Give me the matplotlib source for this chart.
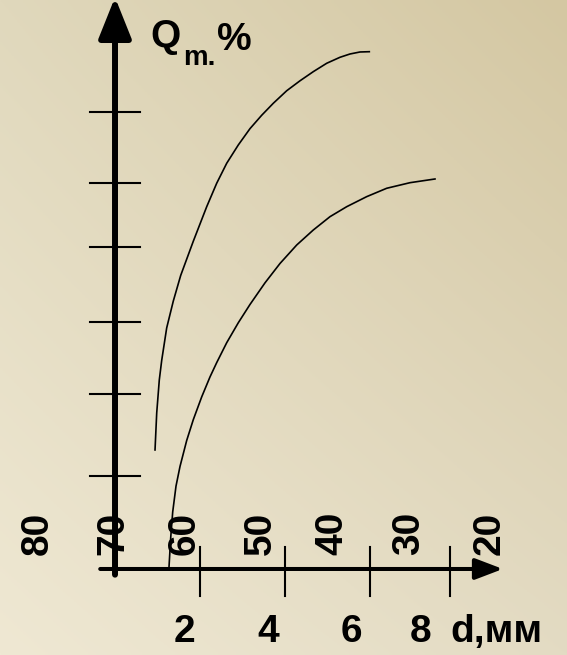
import numpy as np
import matplotlib.pyplot as plt

# upper curve: d (mm) vs Q (%)
d_up = [0.946, 0.986, 1.047, 1.104, 1.222, 1.378, 1.553, 1.851, 2.168, 2.404, 2.641, 2.915,
        3.191, 3.468, 3.742, 4.059, 4.374, 4.688, 5.005, 5.319, 5.556, 5.792, 6.012]
q_up = [20.88, 27.37, 33.16, 36.6, 42.3, 47.0, 51.5, 57.5, 63.56, 67.67, 71.18, 74.39,
        77.25, 79.6, 81.7, 83.9, 85.65, 87.25, 88.72, 89.77, 90.35, 90.70, 90.75]

# lower curve
d_low = [1.277, 1.317, 1.364, 1.442, 1.537, 1.695, 1.851, 2.050, 2.246, 2.404, 2.641, 2.915,
         3.191, 3.546, 3.901, 4.296, 4.688, 5.083, 5.478, 5.950, 6.423, 6.974, 7.565]
q_low = [0.4, 5.5, 10.0, 14.54, 18.0, 22.55, 26.2, 30.2, 33.7, 36.2, 39.7, 43.2,
         46.4, 50.2, 53.6, 56.84, 59.47, 61.81, 63.56, 65.32, 66.79, 67.77, 68.42]

# marks on the Q axis
q_ticks = [80.2, 67.7, 56.5, 43.3, 30.7, 16.3]

# d axis ticks and labels
d_ticks = [2.01, 4.02, 6.03, 7.92]
d_labels = ['2', '4', '6', '8']
d_label_pos = [1.63, 3.62, 5.58, 7.23]

# second (rotated) scale along the d axis
top_labels = ['80', '70', '60', '50', '40', '30', '20']
top_pos = [-1.82, -0.03, 1.64, 3.45, 5.15, 6.95, 8.86]

xmin, xmax = -2.719, 10.686
ymin, ymax = -15.09, 99.82

plt.rcParams['font.family'] = ['Liberation Sans', 'DejaVu Sans']

fig = plt.figure(figsize=(5.67, 6.55), dpi=100)
ax = fig.add_axes([0, 0, 1, 1])
ax.set_xlim(xmin, xmax)
ax.set_ylim(ymin, ymax)
ax.axis('off')

# beige gradient background
tl = np.array([224, 216, 188]) / 255
tr = np.array([212, 199, 162]) / 255
bl = np.array([239, 232, 211]) / 255
br = np.array([227, 219, 195]) / 255
u = np.linspace(0, 1, 200)[None, :, None]
v = np.linspace(0, 1, 200)[:, None, None]
grad = (1 - v) * ((1 - u) * tl + u * tr) + v * ((1 - u) * bl + u * br)
ax.imshow(grad, extent=(xmin, xmax, ymin, ymax), aspect='auto', zorder=0)

# axes with arrows
ax.annotate('', xy=(0, 100.3), xytext=(0, -1.0), annotation_clip=False,
            arrowprops=dict(arrowstyle='-|>,head_length=1.25,head_width=0.5',
                            mutation_scale=20, lw=4.3, color='black',
                            shrinkA=0, shrinkB=0), zorder=3)
ax.annotate('', xy=(9.17, 0), xytext=(-0.35, 0), annotation_clip=False,
            arrowprops=dict(arrowstyle='-|>,head_length=1.05,head_width=0.4',
                            mutation_scale=16, lw=2.9, color='black',
                            shrinkA=0, shrinkB=0), zorder=3)

for q in q_ticks:
    ax.plot([-0.59, 0.59], [q, q], color='black', lw=1.5, zorder=2)
for d in d_ticks:
    ax.plot([d, d], [3.9, -4.7], color='black', lw=1.5, zorder=2)

ax.plot(d_up, q_up, color='black', lw=1.2, solid_joinstyle='round', zorder=2)
ax.plot(d_low, q_low, color='black', lw=1.2, solid_joinstyle='round', zorder=2)

for lab, x in zip(top_labels, top_pos):
    ax.text(x, 6.3, lab, rotation=90, ha='center', va='center',
            fontsize=28, fontweight='bold', zorder=4)

for lab, x in zip(d_labels, d_label_pos):
    ax.text(x, -12.8, lab, ha='center', va='baseline',
            fontsize=28, fontweight='bold')
ax.text(7.92, -12.8, 'd,мм', ha='left', va='baseline', fontsize=28, fontweight='bold')

# Q_m.% label
ax.text(0.83, 91.6, 'Q', ha='left', va='baseline', fontsize=28, fontweight='bold')
ax.text(1.61, 88.4, 'm.', ha='left', va='baseline', fontsize=20, fontweight='bold')
ax.text(2.41, 91.1, '%', ha='left', va='baseline', fontsize=28, fontweight='bold')

plt.savefig('out.png', dpi=100)
